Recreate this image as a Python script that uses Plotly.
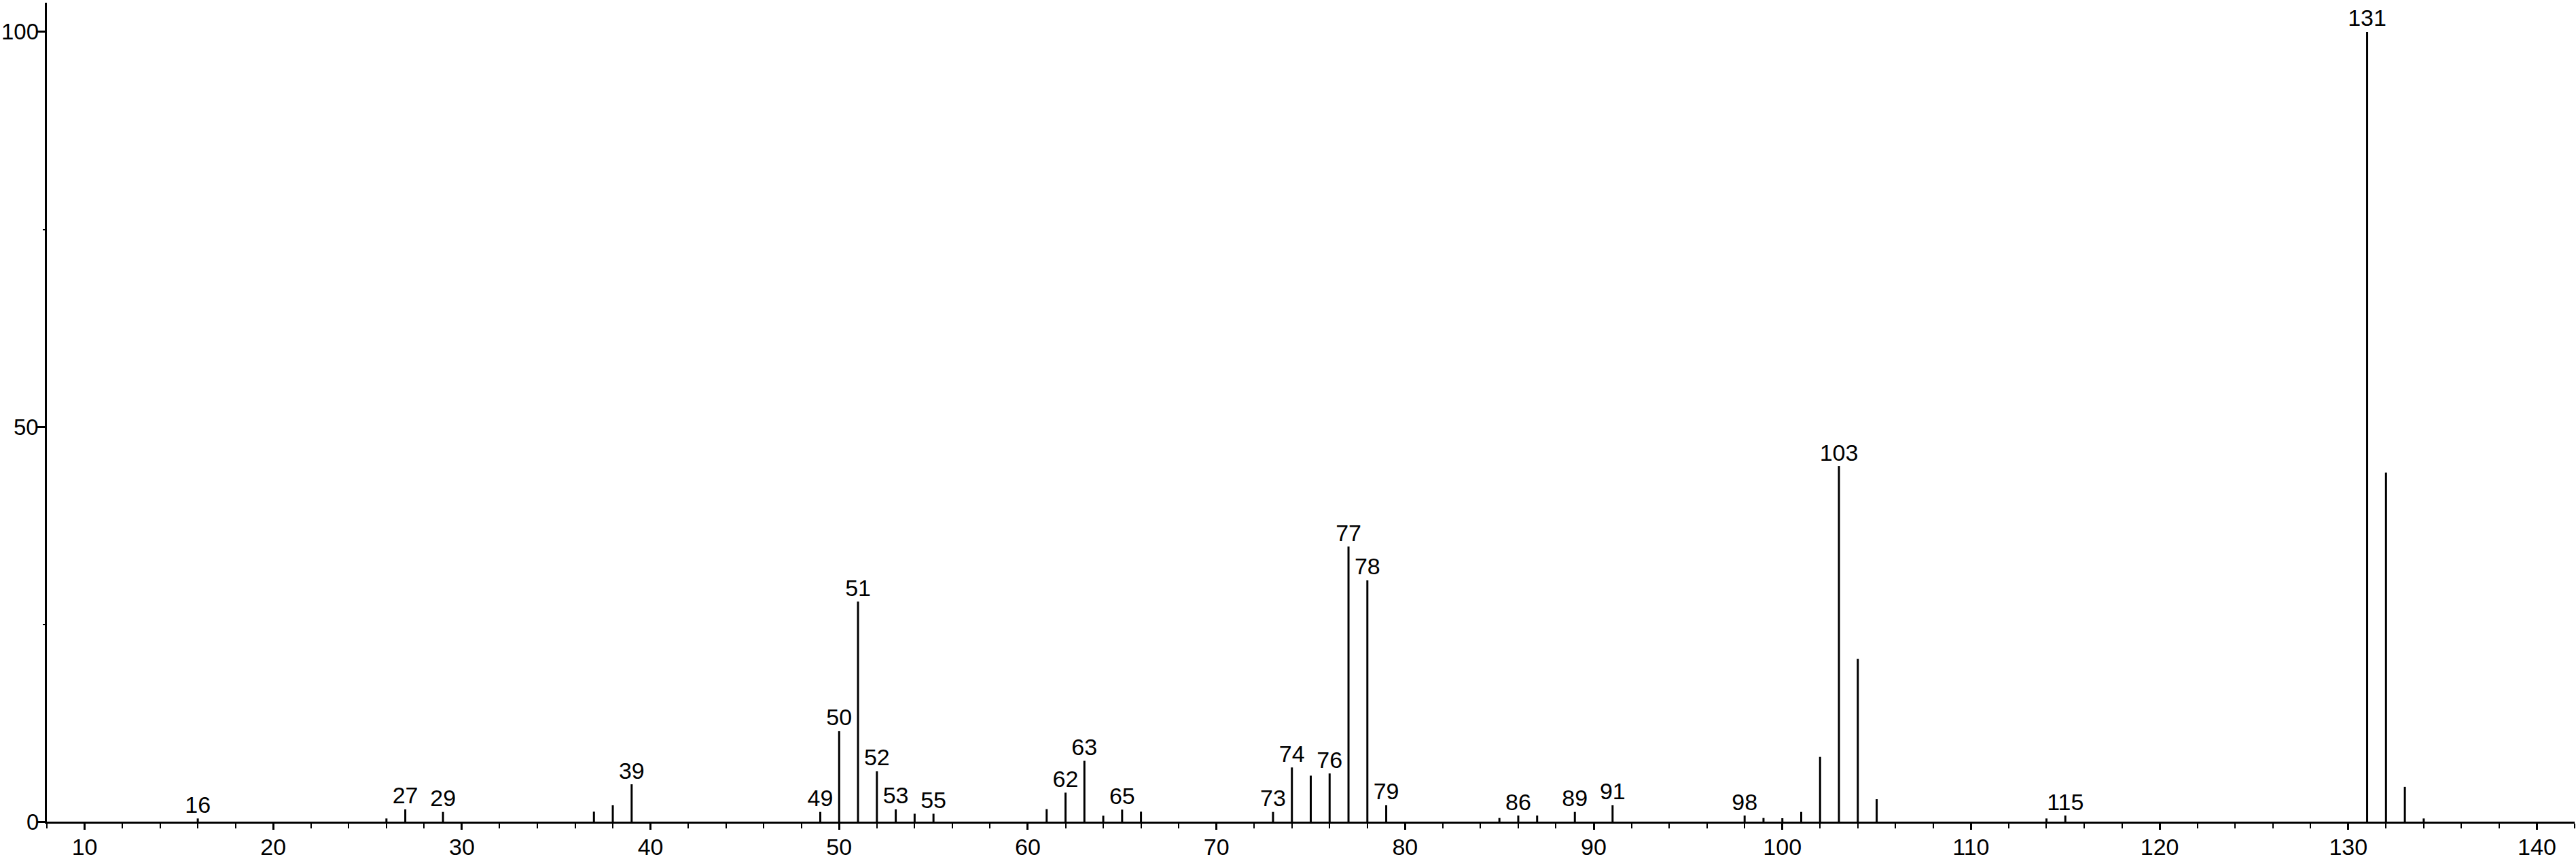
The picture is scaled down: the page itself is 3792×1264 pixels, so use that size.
import plotly.graph_objects as go

# m/z values and relative intensities
mz = [16, 26, 27, 29, 37, 38, 39, 49, 50, 51, 52, 53, 54, 55, 61, 62, 63, 64, 65, 66,
      73, 74, 75, 76, 77, 78, 79, 85, 86, 87, 89, 91, 98, 99, 100, 101, 102, 103, 104,
      105, 114, 115, 131, 132, 133, 134]
intensity = [0.4, 0.4, 1.55, 1.23, 1.26, 2.07, 4.73, 1.23, 11.45, 27.86, 6.37, 1.55, 1.0,
             1.0, 1.58, 3.67, 7.7, 0.75, 1.52, 1.26, 1.23, 6.86, 5.82, 6.1, 34.84, 30.56,
             2.07, 0.46, 0.77, 0.77, 1.23, 2.07, 0.77, 0.46, 0.43, 1.23, 8.2, 45.0, 20.6,
             2.84, 0.4, 0.77, 100.0, 44.2, 4.4, 0.4]

# peaks that carry a text label
labeled_mz = [16, 27, 29, 39, 49, 50, 51, 52, 53, 55, 62, 63, 65, 73, 74, 76, 77, 78, 79,
              86, 89, 91, 98, 103, 115, 131]

x_ticks = [10, 20, 30, 40, 50, 60, 70, 80, 90, 100, 110, 120, 130, 140]
y_ticks = [0, 50, 100]
y_minor_ticks = [25, 75]

FONT = "Liberation Sans, Arial, sans-serif"

# build stick segments
sx, sy = [], []
for m, v in zip(mz, intensity):
    sx += [m, m, None]
    sy += [0, v, None]

lookup = dict(zip(mz, intensity))
lx = labeled_mz
ly = [lookup[m] for m in labeled_mz]
lt = [str(m) for m in labeled_mz]

fig = go.Figure()
fig.add_trace(go.Scatter(x=sx, y=sy, mode="lines",
                         line=dict(color="black", width=3),
                         hoverinfo="skip", showlegend=False, cliponaxis=False))
fig.add_trace(go.Scatter(x=lx, y=ly, mode="text", text=lt,
                         textposition="top center",
                         textfont=dict(family=FONT, size=34, color="black"),
                         showlegend=False, cliponaxis=False))

# y tick labels as annotations (exact placement next to the ticks)
for t in y_ticks:
    fig.add_annotation(x=0, xref="paper", y=t, yref="y", text=str(t),
                       xanchor="right", yanchor="middle", xshift=-11,
                       showarrow=False, borderpad=0,
                       font=dict(family=FONT, size=33, color="black"))

fig.update_layout(
    width=3792, height=1264,
    margin=dict(l=69, r=2, t=4, b=55, pad=0),
    paper_bgcolor="white", plot_bgcolor="white",
    font=dict(family=FONT, size=34, color="black"),
    xaxis=dict(range=[8, 142.0], tickvals=x_ticks, ticks="outside", ticklen=9,
               tickwidth=3, tickcolor="black", showline=True, linewidth=3,
               linecolor="black", showgrid=False, zeroline=False, automargin=False,
               ticklabelstandoff=-4,
               tickfont=dict(family=FONT, size=34, color="black"),
               minor=dict(dtick=2, tick0=0, ticks="outside", ticklen=7,
                          tickwidth=2, tickcolor="black", showgrid=False)),
    yaxis=dict(range=[0, 103.7], tickvals=y_ticks, ticks="outside", ticklen=11,
               tickwidth=3, tickcolor="black", showline=True, linewidth=3,
               linecolor="black", showgrid=False, zeroline=False, automargin=False,
               showticklabels=False,
               minor=dict(tickvals=y_minor_ticks, ticks="outside", ticklen=3,
                          tickwidth=2, tickcolor="black", showgrid=False)),
)

fig.write_html("out.html", config={"displayModeBar": False},
               post_script="document.body.style.margin='0';"
                           "document.documentElement.style.overflow='hidden';")
